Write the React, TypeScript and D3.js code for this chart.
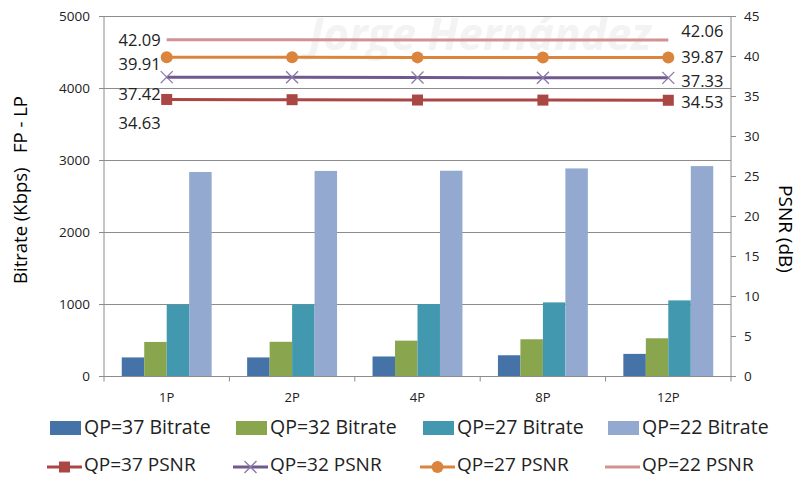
import React from "react";
import * as d3 from "d3";

const categories = ["1P", "2P", "4P", "8P", "12P"];
const barSeries = ["QP=37 Bitrate", "QP=32 Bitrate", "QP=27 Bitrate", "QP=22 Bitrate"];
const bitrate37 = [265, 265, 278, 295, 314];
const bitrate32 = [480, 482, 498, 517, 531];
const bitrate27 = [1000, 1002, 1006, 1029, 1057];
const bitrate22 = [2840, 2855, 2858, 2890, 2922];
const lineSeries = ["QP=37 PSNR", "QP=32 PSNR", "QP=27 PSNR", "QP=22 PSNR"];
const psnr37 = [34.63, 34.6, 34.56, 34.55, 34.53];
const psnr32 = [37.42, 37.4, 37.38, 37.35, 37.33];
const psnr27 = [39.91, 39.9, 39.89, 39.88, 39.87];
const psnr22 = [42.09, 42.08, 42.07, 42.07, 42.06];
const leftTicks = [0, 1000, 2000, 3000, 4000, 5000];
const rightTicks = [0, 5, 10, 15, 20, 25, 30, 35, 40, 45];

const barColors = ["#4572A7", "#89A54E", "#4198AF", "#93A9CF"];
const lineColors = ["#AA4643", "#71588F", "#DB843D", "#D09392"];
const markers = ["square", "x", "circle", "none"];

const W = 798, H = 477;
const m = { left: 104, right: 731, top: 16.5, bottom: 376.5 };
const FONT = "'Open Sans', Lato, sans-serif";

function Marker({ type, x, y, color }: { type: string; x: number; y: number; color: string }) {
  if (type === "square") return <rect x={x - 5.5} y={y - 5.5} width={11} height={11} fill={color} />;
  if (type === "circle") return <circle cx={x} cy={y} r={6} fill={color} />;
  if (type === "x")
    return (
      <g stroke="#8A78A8" strokeWidth={1.3}>
        <line x1={x - 6} y1={y - 6} x2={x + 6} y2={y + 6} />
        <line x1={x - 6} y1={y + 6} x2={x + 6} y2={y - 6} />
      </g>
    );
  return null;
}

export default function App() {
  const bars = [bitrate37, bitrate32, bitrate27, bitrate22];
  const lines = [psnr37, psnr32, psnr27, psnr22];
  const x0 = d3.scaleBand().domain(categories).range([m.left, m.right]).paddingInner(0).paddingOuter(0);
  const x1 = d3.scaleBand().domain(barSeries).range([0, x0.bandwidth()]).paddingOuter(0.79).paddingInner(0);
  const yL = d3.scaleLinear().domain([0, 5000]).range([m.bottom, m.top]);
  const yR = d3.scaleLinear().domain([0, 45]).range([m.bottom, m.top]);
  const cx = (c: string) => (x0(c) as number) + x0.bandwidth() / 2;
  const lineGen = d3.line<number>().x((_, i) => cx(categories[i])).y((d) => yR(d));

  const leftOffsets = [24, 17, 7, 0];
  const rightOffsets = [2, 3, 0, -9];
  const fmt = d3.format(".2f");

  const legendX = [47, 233, 420, 605];

  return (
    <svg width={W} height={H} style={{ position: "absolute", left: 0, top: 0, fontFamily: FONT }}>
      <rect width={W} height={H} fill="#fff" />
      <text x={480} y={50} textAnchor="middle" fontSize={44} fontStyle="italic" fontWeight="bold" fill="#f3f3f3">
        Jorge Hernández
      </text>
      {leftTicks.slice(1).map((t) => (
        <line key={t} x1={m.left} x2={m.right} y1={yL(t)} y2={yL(t)} stroke="#8c8c8c" strokeWidth={1} />
      ))}
      {bars.map((s, si) =>
        s.map((v, i) => (
          <rect
            key={si + "-" + i}
            x={(x0(categories[i]) as number) + (x1(barSeries[si]) as number)}
            y={yL(v)}
            width={x1.bandwidth()}
            height={m.bottom - yL(v)}
            fill={barColors[si]}
          />
        ))
      )}
      {/* axes */}
      <line x1={m.left} x2={m.left} y1={m.top} y2={m.bottom} stroke="#8c8c8c" />
      <line x1={m.right} x2={m.right} y1={m.top} y2={m.bottom} stroke="#8c8c8c" />
      <line x1={m.left} x2={m.right} y1={m.bottom} y2={m.bottom} stroke="#8c8c8c" />
      {leftTicks.map((t) => (
        <g key={t}>
          <line x1={m.left - 5} x2={m.left} y1={yL(t)} y2={yL(t)} stroke="#8c8c8c" />
          <text x={m.left - 14} y={yL(t)} dy="0.35em" textAnchor="end" fontSize={13.5} fill="#222">
            {t}
          </text>
        </g>
      ))}
      {rightTicks.map((t) => (
        <g key={t}>
          <line x1={m.right} x2={m.right + 5} y1={yR(t)} y2={yR(t)} stroke="#8c8c8c" />
          <text x={m.right + 13} y={yR(t)} dy="0.35em" textAnchor="start" fontSize={13.5} fill="#222">
            {t}
          </text>
        </g>
      ))}
      {categories.map((c, i) => (
        <g key={c}>
          <line x1={x0(c) as number} x2={x0(c) as number} y1={m.bottom} y2={m.bottom + 5} stroke="#8c8c8c" />
          {i === categories.length - 1 && (
            <line x1={m.right} x2={m.right} y1={m.bottom} y2={m.bottom + 5} stroke="#8c8c8c" />
          )}
          <text x={cx(c)} y={m.bottom + 21} dy="0.35em" textAnchor="middle" fontSize={13} fill="#222">
            {c}
          </text>
        </g>
      ))}
      {/* lines */}
      {lines.map((s, si) => (
        <g key={si}>
          <path d={lineGen(s) as string} fill="none" stroke={lineColors[si]} strokeWidth={3} />
          {s.map((v, i) => (
            <Marker key={i} type={markers[si]} x={cx(categories[i])} y={yR(v)} color={lineColors[si]} />
          ))}
          <text
            x={cx(categories[0]) - 6}
            y={yR(s[0]) + leftOffsets[si]}
            dy="0.35em"
            textAnchor="end"
            fontSize={16.5}
            fill="#222"
          >
            {fmt(s[0])}
          </text>
          <text
            x={cx(categories[categories.length - 1]) + 13}
            y={yR(s[s.length - 1]) + rightOffsets[si]}
            dy="0.35em"
            textAnchor="start"
            fontSize={16.5}
            fill="#222"
          >
            {fmt(s[s.length - 1])}
          </text>
        </g>
      ))}
      {/* axis titles */}
      <text
        transform={`translate(21,190) rotate(-90)`}
        textAnchor="middle"
        dy="0.35em"
        fontSize={18.5}
        fill="#000"
        xmlSpace="preserve"
      >
        {"Bitrate (Kbps)   FP - LP"}
      </text>
      <text
        transform={`translate(786,229) rotate(90)`}
        textAnchor="middle"
        dy="0.35em"
        fontSize={19}
        fill="#000"
      >
        PSNR (dB)
      </text>
      {/* legend */}
      {barSeries.map((s, i) => (
        <g key={s}>
          <rect x={legendX[i] + 3} y={421} width={31} height={14} fill={barColors[i]} />
          <text x={legendX[i] + 37} y={434} fontSize={19.5} fill="#222">
            {s}
          </text>
        </g>
      ))}
      {lineSeries.map((s, i) => (
        <g key={s}>
          <line x1={legendX[i]} x2={legendX[i] + 35} y1={467} y2={467} stroke={lineColors[i]} strokeWidth={3} />
          <Marker type={markers[i]} x={legendX[i] + 17.5} y={467} color={lineColors[i]} />
          <text x={legendX[i] + 37} y={471} fontSize={19} fill="#222">
            {s}
          </text>
        </g>
      ))}
    </svg>
  );
}
